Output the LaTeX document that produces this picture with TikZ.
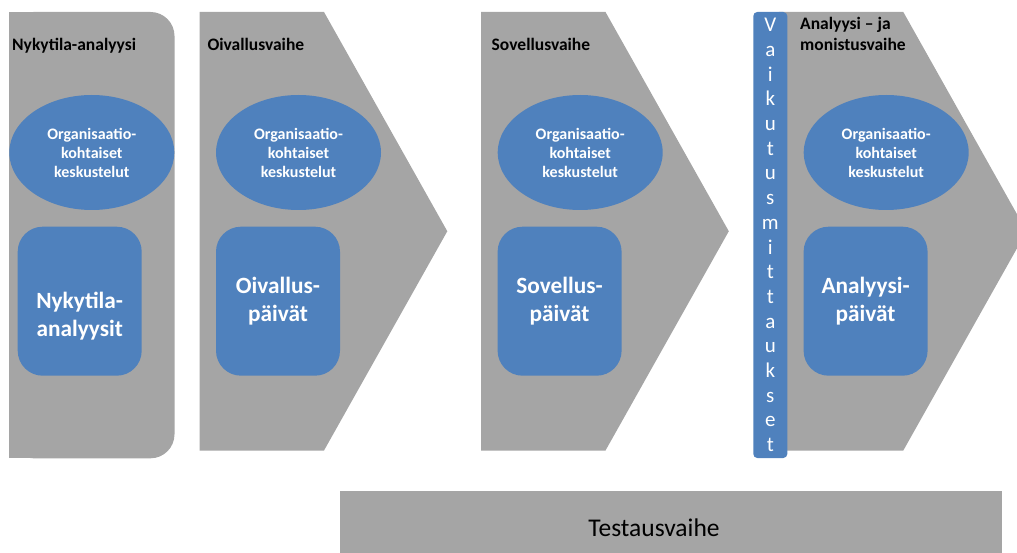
\documentclass[tikz,border=0pt]{standalone}
\usepackage{fontspec}
\setmainfont{Carlito}
\usetikzlibrary{shapes.geometric}

\definecolor{vaihegray}{RGB}{165,165,165}
\definecolor{osablue}{RGB}{79,129,189}

\tikzset{
  vaihe/.style={fill=vaihegray},
  otsikko/.style={anchor=base west, inner sep=0pt, align=left, font=\fontsize{17.5}{21.5}\selectfont\bfseries},
  keskustelu/.style={ellipse, fill=osablue, minimum width=165pt, minimum height=115pt, inner sep=0pt, align=center, text=white, font=\fontsize{16}{19}\selectfont\bfseries},
  paivateksti/.style={inner sep=0pt, align=center, text=white, font=\fontsize{23.3}{28.4}\selectfont\bfseries},
  paiva/.style={paivateksti, rectangle, rounded corners=25pt, fill=osablue, minimum width=124pt, minimum height=149pt},
  mittaus/.style={rectangle, rounded corners=4pt, fill=osablue, minimum width=34pt, minimum height=446pt, inner sep=0pt, align=center, text=white, font=\fontsize{21}{24.7}\selectfont},
  testaus/.style={rectangle, fill=vaihegray, minimum width=661.7pt, minimum height=66pt, inner sep=0pt},
  testausteksti/.style={anchor=base, inner sep=0pt, font=\fontsize{25.5}{30}\selectfont}
}

\begin{document}
\begin{tikzpicture}[x=1pt, y=-1pt]
\useasboundingbox (0,0) rectangle (1017,553);
\clip (0,0) rectangle (1017,553);

\def\ya{12}
\def\yb{231.25}
\def\yc{450.5}

\def\xb{199.5}
\def\xc{481}
\def\xd{778.8}
\def\dflat{124.5}
\def\dtip{247.8}

\fill[vaihe, rounded corners=24pt] (9.3,\ya) rectangle (174.5,458.3);
\fill[vaihe] (9.3,\ya) rectangle (60,458.3);

\fill[vaihe] (\xb,\ya) -- (\xb+\dflat,\ya) -- (\xb+\dtip,\yb) -- (\xb+\dflat,\yc) -- (\xb,\yc) -- cycle;
\fill[vaihe] (\xc,\ya) -- (\xc+\dflat,\ya) -- (\xc+\dtip,\yb) -- (\xc+\dflat,\yc) -- (\xc,\yc) -- cycle;
\fill[vaihe] (\xd,\ya) -- (\xd+\dflat,\ya) -- (\xd+\dtip,\yb) -- (\xd+\dflat,\yc) -- (\xd,\yc) -- cycle;

\node[otsikko] (nykyotsikko) at (12,51) {Nykytila-analyysi};
\node[otsikko] (oivaotsikko) at (207.3,51) {Oivallusvaihe};
\node[otsikko] (soveotsikko) at (491.5,51) {Sovellusvaihe};
\node[otsikko] (analotsikko) at (800,51) {Analyysi – ja\\monistusvaihe};

\node[keskustelu] (kesk1) at (91.8,152.5) {Organisaatio-\\kohtaiset\\keskustelut};
\node[keskustelu] (kesk2) at (298.5,152.5) {Organisaatio-\\kohtaiset\\keskustelut};
\node[keskustelu] (kesk3) at (580.2,152.5) {Organisaatio-\\kohtaiset\\keskustelut};
\node[keskustelu] (kesk4) at (886.2,152.5) {Organisaatio-\\kohtaiset\\keskustelut};

\node[paiva] (paiva1) at (79.7,301.2) {};
\node[paivateksti] (nykyteksti) at (79.7,316) {Nykytila-\\analyysit};
\node[paiva] (paiva2) at (278,301.2) {Oivallus-\\päivät};
\node[paiva] (paiva3) at (559.6,301.2) {Sovellus-\\päivät};
\node[paiva] (paiva4) at (865.6,301.2) {Analyysi-\\päivät};

\node[mittaus] (mittaukset) at (770.3,235) {V\\a\\i\\k\\u\\t\\u\\s\\m\\i\\t\\t\\a\\u\\k\\s\\e\\t};

\node[testaus] (testausvaihe) at (670.85,524) {};
\node[testausteksti] (testausnimi) at (654,536.7) {Testausvaihe};

\end{tikzpicture}
\end{document}
